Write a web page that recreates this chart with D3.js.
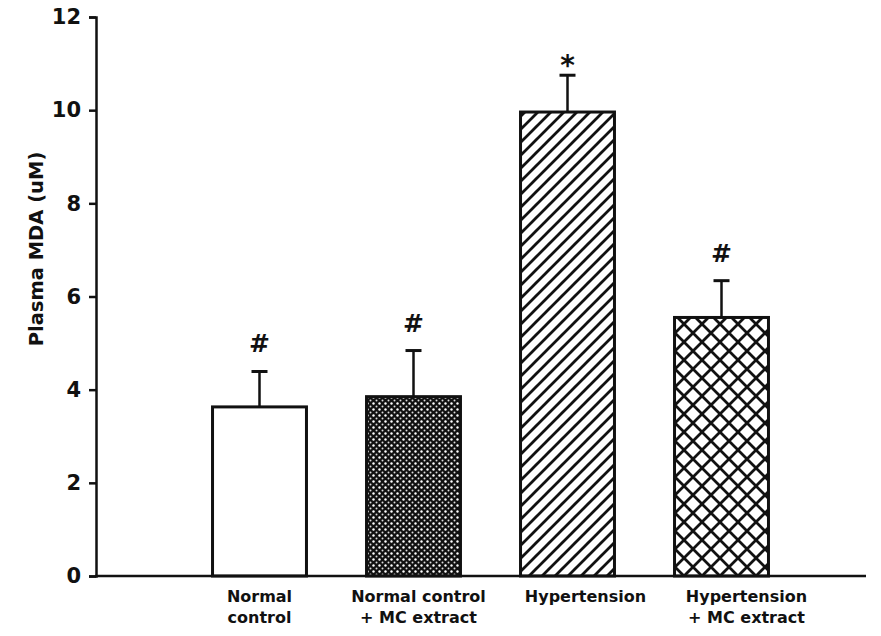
<!DOCTYPE html>
<html><head><meta charset="utf-8">
<script src="https://cdn.jsdelivr.net/npm/d3@7"></script>
<style>body{margin:0;background:#fff}svg{display:block}</style>
</head><body>
<script>
const categories = ["Normal control", "Normal control + MC extract", "Hypertension", "Hypertension + MC extract"];
const labelLines = [["Normal", "control"], ["Normal control", "+ MC extract"], ["Hypertension"], ["Hypertension", "+ MC extract"]];
const means = [3.63, 3.85, 9.96, 5.55];
const errors = [0.76, 0.99, 0.79, 0.79];
const marks = ["#", "#", "*", "#"];
const yTicks = [0, 2, 4, 6, 8, 10, 12];
const fills = ["#fff", "url(#dots)", "url(#diag)", "url(#cross)"];
const labelShift = [0, 5, 18, 25];

const W = 881, H = 636;
const svg = d3.select("body").append("svg").attr("width", W).attr("height", H);
const defs = svg.append("defs");

// dotted dark pattern
const pd = defs.append("pattern").attr("id", "dots").attr("patternUnits", "userSpaceOnUse").attr("width", 6).attr("height", 6);
pd.append("rect").attr("width", 6).attr("height", 6).attr("fill", "#111");
pd.append("circle").attr("cx", 1.5).attr("cy", 1.5).attr("r", 1.2).attr("fill", "#fff");
pd.append("circle").attr("cx", 4.5).attr("cy", 4.5).attr("r", 1.0).attr("fill", "#ddd");

// diagonal hatch
const pg = defs.append("pattern").attr("id", "diag").attr("patternUnits", "userSpaceOnUse").attr("width", 13).attr("height", 13);
pg.append("rect").attr("width", 13).attr("height", 13).attr("fill", "#fff");
pg.append("path").attr("d", "M-3,16 L16,-3 M-3,3 L3,-3 M10,16 L16,10").attr("stroke", "#111").attr("stroke-width", 2.8);

// cross hatch
const pc = defs.append("pattern").attr("id", "cross").attr("patternUnits", "userSpaceOnUse").attr("width", 18).attr("height", 18);
pc.append("rect").attr("width", 18).attr("height", 18).attr("fill", "#fff");
pc.append("path").attr("d", "M-3,21 L21,-3 M-3,3 L3,-3 M15,21 L21,15 M-3,-3 L21,21 M-3,15 L3,21 M15,-3 L21,3").attr("stroke", "#111").attr("stroke-width", 2.8);

const x = d3.scaleBand().domain(categories).range([182.5, 798.5]).paddingInner(0.39).paddingOuter(0.195);
const y = d3.scaleLinear().domain([0, 12]).range([576, 17]);

const font = "'DejaVu Sans', sans-serif";

// bars
svg.selectAll(".bar").data(categories).enter().append("rect")
  .attr("x", d => x(d)).attr("y", (d, i) => y(means[i]))
  .attr("width", x.bandwidth()).attr("height", (d, i) => y(0) - y(means[i]))
  .attr("fill", (d, i) => fills[i]).attr("stroke", "#111").attr("stroke-width", 3);

// error bars
categories.forEach((d, i) => {
  const cx = x(d) + x.bandwidth() / 2;
  svg.append("line").attr("x1", cx).attr("x2", cx).attr("y1", y(means[i])).attr("y2", y(means[i] + errors[i]))
    .attr("stroke", "#111").attr("stroke-width", 2.5);
  svg.append("line").attr("x1", cx - 8).attr("x2", cx + 8).attr("y1", y(means[i] + errors[i])).attr("y2", y(means[i] + errors[i]))
    .attr("stroke", "#111").attr("stroke-width", 3);
  svg.append("text").attr("x", cx).attr("y", y(means[i] + errors[i]) - (marks[i] === "*" ? 0 : 19))
    .attr("text-anchor", "middle").attr("font-family", font).attr("font-weight", "bold")
    .attr("font-size", marks[i] === "*" ? 28 : 25).attr("fill", "#111").text(marks[i]);
});

// y axis
const yAxis = d3.axisLeft(y).tickValues(yTicks).tickSize(7).tickPadding(8).tickFormat(d3.format("d"));
const ga = svg.append("g").attr("transform", "translate(96,0)").call(yAxis);
ga.select(".domain").attr("stroke", "#111").attr("stroke-width", 2.5);
ga.selectAll(".tick line").attr("stroke", "#111").attr("stroke-width", 2.5);
ga.selectAll(".tick text").attr("font-family", font).attr("font-weight", "bold").attr("font-size", 21).attr("fill", "#111");

// x axis line
svg.append("line").attr("x1", 95).attr("x2", 866).attr("y1", y(0)).attr("y2", y(0)).attr("stroke", "#111").attr("stroke-width", 2.5);

// x labels
categories.forEach((d, i) => {
  const cx = x(d) + x.bandwidth() / 2 + labelShift[i];
  const t = svg.append("text").attr("text-anchor", "middle").attr("font-family", font).attr("font-weight", "bold")
    .attr("font-size", 16).attr("fill", "#111");
  labelLines[i].forEach((ln, j) => {
    t.append("tspan").attr("x", cx).attr("y", 602 + j * 21).text(ln);
  });
});

// y title
svg.append("text").attr("transform", "translate(43,249) rotate(-90)").attr("text-anchor", "middle")
  .attr("font-family", font).attr("font-weight", "bold").attr("font-size", 19.5).attr("fill", "#111")
  .text("Plasma MDA (uM)");
</script>
</body></html>
